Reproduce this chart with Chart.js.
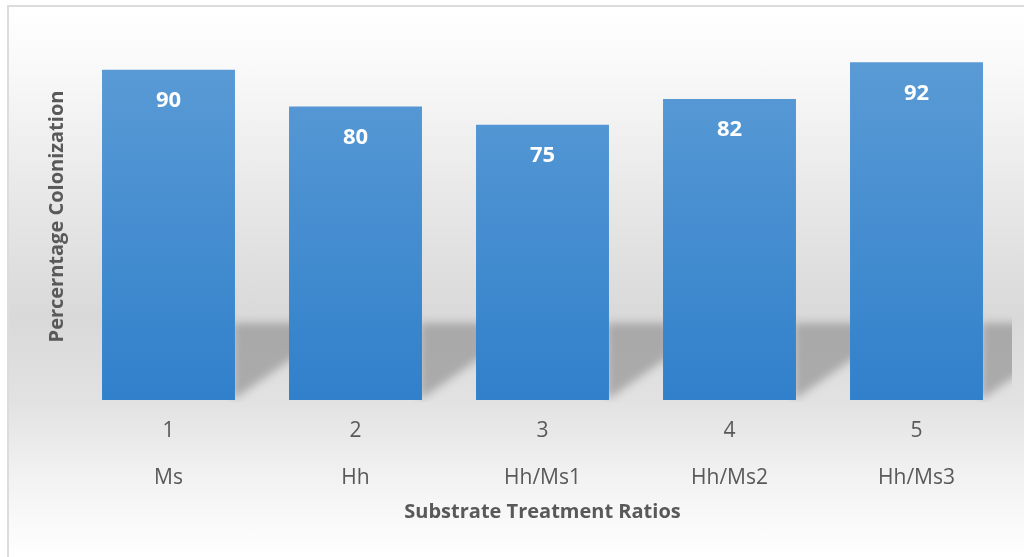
<!DOCTYPE html>
<html>
<head>
<meta charset="utf-8">
<script src="https://cdn.jsdelivr.net/npm/chart.js@4/dist/chart.umd.min.js"></script>
<style>
  html, body { margin: 0; padding: 0; background: #ffffff; overflow: hidden; }
  #frame {
    position: absolute; left: 7px; top: 5px; width: 1030px; height: 560px;
    border-left: 2px solid #dcdcdc; border-top: 2px solid #dcdcdc;
    background: linear-gradient(to bottom, #ffffff 0px, #f9f9f9 60px, #e9e9e9 180px, #d9d9d9 310px, #e2e2e2 395px, #f2f2f2 470px, #ffffff 552px);
  }
  #wrap { position: absolute; left: 0; top: 0; width: 1024px; height: 557px; }
</style>
</head>
<body>
<div id="frame"></div>
<div id="wrap"><canvas id="chart" width="1024" height="557"></canvas></div>
<script>
// Colonization percentage per substrate treatment
const treatmentNumbers = ['1', '2', '3', '4', '5'];
const treatmentNames = ['Ms', 'Hh', 'Hh/Ms1', 'Hh/Ms2', 'Hh/Ms3'];
const colonization = [90, 80, 75, 82, 92];

const axisTitleX = 'Substrate Treatment Ratios';
const axisTitleY = 'Percerntage Colonization';

const textGrey = '#595959';
const fontFamily = '"Open Sans", "Noto Sans", sans-serif';

// Diagonal drop shadow cast by each bar onto the backdrop
const barShadow = {
  id: 'barShadow',
  beforeDatasetsDraw(chart) {
    const { ctx, chartArea } = chart;
    const meta = chart.getDatasetMeta(0);
    const shadowRise = (chartArea.bottom - chartArea.top) * 0.21;
    ctx.save();
    ctx.beginPath();
    ctx.rect(chartArea.left, chartArea.top, chartArea.right + 2 - chartArea.left, chartArea.bottom - chartArea.top + 2);
    ctx.clip();
    ctx.filter = 'blur(4.5px)';
    ctx.fillStyle = 'rgba(150,150,150,0.72)';
    meta.data.forEach(bar => {
      const right = bar.x + bar.width / 2;
      const base = bar.base;
      const top = base - shadowRise;
      const reach = (base - top) * 1.4;
      ctx.beginPath();
      ctx.moveTo(right - 2, top);
      ctx.lineTo(right + reach, top);
      ctx.lineTo(right - 2, base);
      ctx.closePath();
      ctx.fill();
    });
    ctx.restore();
  }
};

// White value labels placed inside the top of each bar
const valueLabels = {
  id: 'valueLabels',
  afterDatasetsDraw(chart) {
    const { ctx } = chart;
    const meta = chart.getDatasetMeta(0);
    const values = chart.data.datasets[0].data;
    ctx.save();
    ctx.fillStyle = '#ffffff';
    ctx.font = 'bold 22px ' + fontFamily;
    ctx.textAlign = 'center';
    ctx.textBaseline = 'middle';
    meta.data.forEach((bar, i) => {
      ctx.fillText(String(values[i]), bar.x, bar.y + 31);
    });
    ctx.restore();
  }
};

function barGradient(context) {
  const { chart } = context;
  const area = chart.chartArea;
  if (!area) return '#4a8fd1';
  const g = chart.ctx.createLinearGradient(0, area.top, 0, area.bottom);
  g.addColorStop(0, '#5d9dd6');
  g.addColorStop(1, '#3180cb');
  return g;
}

new Chart(document.getElementById('chart'), {
  type: 'bar',
  data: {
    labels: treatmentNumbers.map((n, i) => [n, treatmentNames[i]]),
    datasets: [{
      data: colonization,
      backgroundColor: barGradient,
      borderWidth: 0,
      categoryPercentage: 1,
      barPercentage: 0.711
    }]
  },
  options: {
    responsive: false,
    animation: false,
    layout: { padding: { left: 0, right: 14, top: 33, bottom: 0 } },
    plugins: { legend: { display: false }, tooltip: { enabled: false } },
    scales: {
      x: {
        grid: { display: false, drawTicks: false },
        border: { display: false },
        ticks: {
          color: textGrey,
          padding: 8,
          font: { family: fontFamily, size: 21, lineHeight: '47px' }
        },
        title: {
          display: true,
          text: axisTitleX,
          color: textGrey,
          font: { family: fontFamily, size: 20, weight: 'bold', lineHeight: 1.2 },
          padding: { top: 0, bottom: 33 }
        },
        afterFit(scale) { scale.height = 157; }
      },
      y: {
        min: 0,
        max: 100,
        grid: { display: false, drawTicks: false },
        border: { display: false },
        ticks: { display: false },
        title: {
          display: true,
          text: axisTitleY,
          color: textGrey,
          font: { family: fontFamily, size: 20, weight: 'bold', lineHeight: 1.2 },
          padding: { top: 45, bottom: 0 }
        },
        afterFit(scale) { scale.width = 75; }
      }
    }
  },
  plugins: [barShadow, valueLabels]
});
</script>
</body>
</html>
